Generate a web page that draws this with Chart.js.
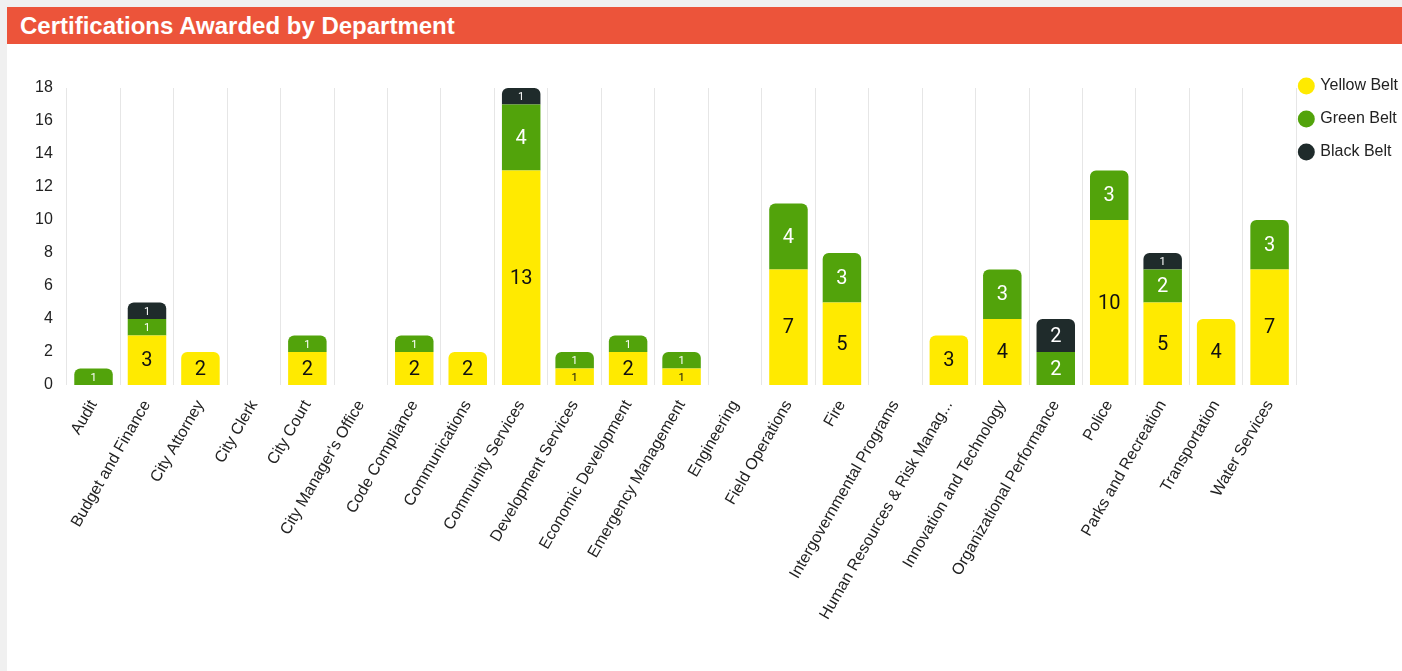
<!DOCTYPE html>
<html>
<head>
<meta charset="utf-8">
<script src="https://cdn.jsdelivr.net/npm/chart.js@4"></script>
<style>
  html, body { margin: 0; padding: 0; }
  body { background: #f0f0f0; width: 1402px; height: 671px; overflow: hidden; position: relative; font-family: "Liberation Sans", Arial, sans-serif; }
  .card { position: absolute; left: 7px; top: 7px; width: 1420px; height: 670px; background: #fff; }
  .header { height: 37px; background: #ec543a; color: #fff; font-weight: bold; font-size: 24px; line-height: 37px; padding-left: 13px; }
  .chart-box { position: absolute; left: 0; top: 37px; width: 1414px; height: 627px; }
</style>
</head>
<body>
<div class="card">
  <div class="header">Certifications Awarded by Department</div>
  <div class="chart-box"><canvas id="myChart"></canvas></div>
</div>
<script>
const departments = [
  'Audit', 'Budget and Finance', 'City Attorney', 'City Clerk', 'City Court',
  "City Manager's Office", 'Code Compliance', 'Communications', 'Community Services',
  'Development Services', 'Economic Development', 'Emergency Management', 'Engineering',
  'Field Operations', 'Fire', 'Intergovernmental Programs', 'Human Resources & Risk Management',
  'Innovation and Technology', 'Organizational Performance', 'Police', 'Parks and Recreation',
  'Transportation', 'Water Services'
];
const yellowBelt = [0, 3, 2, 0, 2, 0, 2, 2, 13, 1, 2, 1, 0, 7, 5, 0, 3, 4, 0, 10, 5, 4, 7];
const greenBelt  = [1, 1, 0, 0, 1, 0, 1, 0, 4, 1, 1, 1, 0, 4, 3, 0, 0, 3, 2, 3, 2, 0, 3];
const blackBelt  = [0, 1, 0, 0, 0, 0, 0, 0, 1, 0, 0, 0, 0, 0, 0, 0, 0, 0, 2, 0, 1, 0, 0];
const yTicks = [0, 2, 4, 6, 8, 10, 12, 14, 16, 18];

const beltSeries = [yellowBelt, greenBelt, blackBelt];
const axisFont = { size: 16, family: '"Liberation Sans", Arial, sans-serif' };

// round only the top segment of each stack
function topRadius(ctx) {
  const i = ctx.dataIndex;
  const d = ctx.datasetIndex;
  for (let k = beltSeries.length - 1; k > d; k--) {
    if (beltSeries[k][i] > 0) return 0;
  }
  return { topLeft: 6, topRight: 6, bottomLeft: 0, bottomRight: 0 };
}

const labelColors = ['#111', '#fff', '#fff'];

const barLabels = {
  id: 'barLabels',
  afterDatasetsDraw(chart) {
    const ctx = chart.ctx;
    ctx.save();
    ctx.textAlign = 'center';
    ctx.textBaseline = 'middle';
    chart.data.datasets.forEach((ds, d) => {
      const meta = chart.getDatasetMeta(d);
      meta.data.forEach((bar, i) => {
        const v = ds.data[i];
        if (!v) return;
        const p = bar.getProps(['x', 'y', 'base'], true);
        const h = Math.abs(p.base - p.y);
        const size = h < 20 ? 11 : 20;
        ctx.font = size + 'px Roboto, "Liberation Sans", sans-serif';
        ctx.fillStyle = labelColors[d];
        ctx.fillText(String(v), p.x, (p.y + p.base) / 2 + 1);
      });
    });
    ctx.restore();
  }
};

// legend sits right against the plot area
const legendShift = {
  id: 'legendShift',
  afterLayout(chart) {
    chart.legend.left = chart.chartArea.right - 13;
  }
};

const ctx = document.getElementById('myChart').getContext('2d');
new Chart(ctx, {
  type: 'bar',
  data: {
    labels: departments,
    datasets: [
      { label: 'Yellow Belt', data: yellowBelt, backgroundColor: '#ffea00', borderRadius: topRadius, borderSkipped: false },
      { label: 'Green Belt', data: greenBelt, backgroundColor: '#52a30b', borderRadius: topRadius, borderSkipped: false },
      { label: 'Black Belt', data: blackBelt, backgroundColor: '#1f2b2b', borderRadius: topRadius, borderSkipped: false }
    ]
  },
  options: {
    responsive: true,
    maintainAspectRatio: false,
    animation: false,
    layout: { padding: { top: 17, left: 14, right: 0, bottom: 36 } },
    scales: {
      x: {
        stacked: true,
        afterFit: axis => { axis.paddingLeft = 0; },
        grid: { color: '#e6e6e6', drawTicks: false },
        border: { display: false },
        ticks: {
          color: '#222',
          font: axisFont,
          minRotation: 60,
          maxRotation: 60,
          padding: 12,
          callback: function (value) {
            const s = this.getLabelForValue(value);
            return s.length > 28 ? s.slice(0, 28) + '...' : s;
          }
        }
      },
      y: {
        stacked: true,
        min: 0,
        max: 18,
        afterBuildTicks: axis => { axis.ticks = yTicks.map(v => ({ value: v })); },
        afterFit: axis => { axis.paddingTop = 44; },
        grid: { display: false, drawTicks: false },
        border: { display: false },
        ticks: { color: '#222', font: axisFont, padding: 14 }
      }
    },
    plugins: {
      legend: {
        position: 'right',
        align: 'start',
        labels: {
          usePointStyle: true,
          pointStyle: 'circle',
          boxWidth: 12,
          boxHeight: 12,
          padding: 17,
          color: '#222',
          font: axisFont
        }
      },
      tooltip: { enabled: false }
    }
  },
  plugins: [barLabels, legendShift]
});
</script>
</body>
</html>
